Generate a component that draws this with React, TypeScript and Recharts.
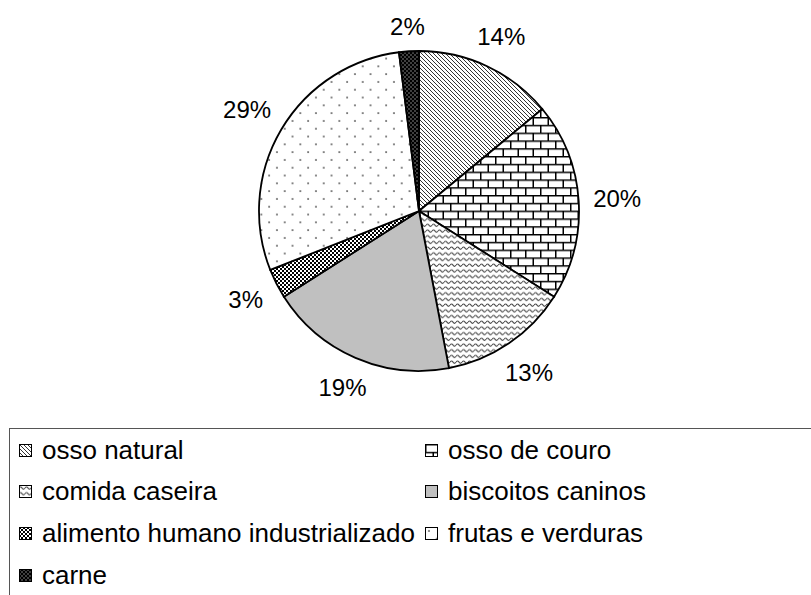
import React from 'react';
import { PieChart, Pie, Cell } from 'recharts';

const categories = [
  'osso natural',
  'osso de couro',
  'comida caseira',
  'biscoitos caninos',
  'alimento humano industrializado',
  'frutas e verduras',
  'carne',
];
const values = [14, 20, 13, 19, 3, 29, 2];
const fills = [
  'url(#pDiag)',
  'url(#pBrick)',
  'url(#pWave)',
  '#C0C0C0',
  'url(#pCheck)',
  'url(#pDots)',
  'url(#pDark)',
];

const data = categories.map((name, i) => ({ name, value: values[i] }));

const FONT = '"Liberation Sans", Arial, sans-serif';

const Patterns = () => (
  <svg width={0} height={0} style={{ position: 'absolute' }}>
    <defs>
      <pattern id="pDiag" patternUnits="userSpaceOnUse" width={4} height={4}>
        <rect width={4} height={4} fill="#fff" />
        <path d="M-1,-1 L5,5 M-1,3 L1,5 M3,-1 L5,1" stroke="#333" strokeWidth={1} />
      </pattern>
      <pattern id="pBrick" patternUnits="userSpaceOnUse" width={15} height={15.6}>
        <rect width={15} height={15.6} fill="#fff" />
        <path
          d="M0,0.75 L15,0.75 M0,8.55 L15,8.55 M0.75,0 L0.75,7.8 M8.25,7.8 L8.25,15.6"
          stroke="#000"
          strokeWidth={1.5}
        />
      </pattern>
      <pattern id="pWave" patternUnits="userSpaceOnUse" width={6} height={5.7}>
        <rect width={6} height={5.7} fill="#fff" />
        <path d="M0,3 Q1.5,0.8 3,3 T6,3" stroke="#444" strokeWidth={1.1} fill="none" />
      </pattern>
      <pattern id="pCheck" patternUnits="userSpaceOnUse" width={4} height={4}>
        <rect width={4} height={4} fill="#fff" />
        <rect x={0} y={0} width={2} height={2} fill="#000" />
        <rect x={2} y={2} width={2} height={2} fill="#000" />
      </pattern>
      <pattern id="pDots" patternUnits="userSpaceOnUse" width={15.6} height={15.6}>
        <rect width={15.6} height={15.6} fill="#fff" />
        <rect x={3.2} y={3.2} width={1.5} height={1.5} fill="#333" />
        <rect x={11} y={11} width={1.5} height={1.5} fill="#333" />
      </pattern>
      <pattern id="pDark" patternUnits="userSpaceOnUse" width={4} height={4}>
        <rect width={4} height={4} fill="#000" />
        <rect x={0.5} y={0.5} width={1} height={1} fill="#fff" />
        <rect x={2.5} y={2.5} width={1} height={1} fill="#fff" />
      </pattern>
    </defs>
  </svg>
);

// label box sits just outside the rim, pushed out by its own half size
const renderLabel = (props: any) => {
  const { cx, cy, midAngle, outerRadius, value } = props;
  const rad = (-midAngle * Math.PI) / 180;
  const c = Math.cos(rad);
  const s = Math.sin(rad);
  const txt = `${value}%`;
  const hw = txt.length === 2 ? 18 : 24;
  const dist = outerRadius + 14 + hw * Math.abs(c) + 10 * Math.abs(s);
  return (
    <text
      x={cx + dist * c}
      y={cy + dist * s}
      textAnchor="middle"
      dominantBaseline="central"
      fill="#000"
      fontSize={24}
      fontFamily={FONT}
    >
      {txt}
    </text>
  );
};

const App: React.FC = () => {
  const rows: number[][] = [];
  for (let i = 0; i < categories.length; i += 2) rows.push([i, i + 1]);

  return (
    <div style={{ position: 'absolute', left: 0, top: 0, width: 811, height: 595, overflow: 'hidden', background: '#fff' }}>
      <Patterns />
      <PieChart width={811} height={420} margin={{ top: 0, right: 0, bottom: 0, left: 0 }}>
        <Pie
          data={data}
          dataKey="value"
          cx={419}
          cy={211}
          outerRadius={160}
          startAngle={90}
          endAngle={-270}
          stroke="#000"
          strokeWidth={1.8}
          label={renderLabel}
          labelLine={false}
          isAnimationActive={false}
        >
          {data.map((d, i) => (
            <Cell key={d.name} fill={fills[i]} />
          ))}
        </Pie>
      </PieChart>
      <div
        style={{
          position: 'absolute',
          left: 9,
          top: 428,
          width: 810,
          height: 180,
          borderTop: '1px solid #555',
          borderLeft: '1px solid #555',
          fontFamily: FONT,
          fontSize: 26,
          color: '#000',
        }}
      >
        {rows.map((pair, r) => (
          <div key={r} style={{ position: 'absolute', top: 6 + r * 41.7, left: 0, height: 30, width: 800 }}>
            {pair.map((idx, k) =>
              idx < categories.length ? (
                <div
                  key={idx}
                  style={{
                    position: 'absolute',
                    left: k === 0 ? 9 : 415,
                    top: 0,
                    display: 'flex',
                    alignItems: 'center',
                    height: 30,
                    whiteSpace: 'nowrap',
                  }}
                >
                  <svg width={13} height={13} style={{ marginRight: 10 }}>
                    <rect x={0.5} y={0.5} width={12} height={12} fill={fills[idx]} stroke="#000" strokeWidth={1} />
                  </svg>
                  <span>{categories[idx]}</span>
                </div>
              ) : null
            )}
          </div>
        ))}
      </div>
    </div>
  );
};

export default App;
